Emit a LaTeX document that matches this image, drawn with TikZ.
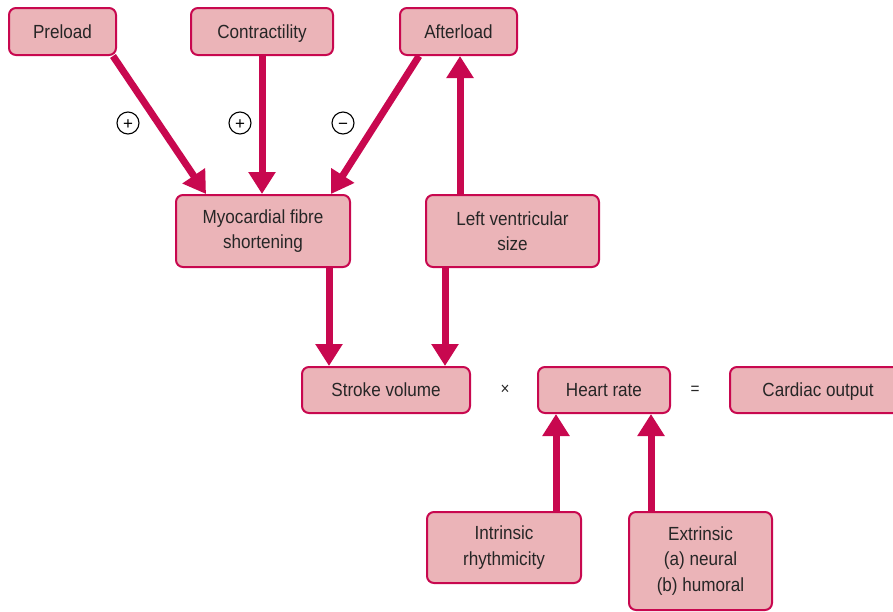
\documentclass[tikz,border=0pt]{standalone}
\usepackage{fontspec}
\setmainfont[FakeStretch=0.9]{Liberation Sans}
\newfontfamily\signfont{Liberation Sans}
\usetikzlibrary{arrows.meta}
\definecolor{crim}{HTML}{C8084F}
\definecolor{boxfill}{HTML}{EBB4B8}
\definecolor{inktext}{HTML}{262626}
\tikzset{
  box/.style={draw=crim, fill=boxfill, line width=2pt, rounded corners=7pt,
    inner sep=0pt, align=center, text=inktext,
    font=\fontsize{19}{25.5}\selectfont},
  oneline/.style={text height=13.6pt, text depth=0pt},
  flow/.style={draw=crim, line width=7pt,
    -{Triangle[length=22pt,width=26pt]}},
  sign/.style={draw=black, circle, line width=1.1pt, minimum size=22pt,
    inner sep=0pt, text height=12pt, text depth=0pt,
    font=\signfont\fontsize{17}{17}\selectfont},
  op/.style={text=inktext, font=\fontsize{17}{17}\selectfont}
}
\begin{document}
\begin{tikzpicture}[x=1pt,y=-1pt]
\useasboundingbox (0,0) rectangle (893,611);
\clip (0,0) rectangle (893,611);

% determinants of contraction
\node[box, oneline, minimum width=107pt, minimum height=47pt] (pre) at (62.5,31.5) {Preload};
\node[box, oneline, minimum width=142pt, minimum height=47pt] (con) at (262,31.5) {Contractility};
\node[box, oneline, minimum width=117pt, minimum height=47pt] (aft) at (458.5,31.5) {Afterload};

\node[box, minimum width=174pt, minimum height=72pt] (myo) at (263,231) {Myocardial fibre\\shortening};
\node[box, minimum width=173pt, minimum height=72pt] (lvs) at (512.5,231) {Left ventricular\\size};

% cardiac output equation
\node[box, oneline, minimum width=168pt, minimum height=46pt] (sv) at (386,390) {Stroke volume};
\node[op] (times) at (505,390) {×};
\node[box, oneline, minimum width=132pt, minimum height=46pt] (hr) at (604,390) {Heart rate};
\node[op] (eq) at (695,390) {=};
\node[box, oneline, minimum width=176pt, minimum height=46pt] (co) at (818,390) {Cardiac output};

% heart rate determinants
\node[box, minimum width=154pt, minimum height=71pt] (intr) at (504,547.5) {Intrinsic\\rhythmicity};
\node[box, minimum width=143pt, minimum height=98pt] (extr) at (700.5,561) {Extrinsic\\(a) neural\\(b) humoral};

% connectors
\draw[flow] ([xshift=-4pt]pre.south east) -- ([xshift=31pt]myo.north west);
\draw[flow] (con.south) -- (con.south |- myo.north);
\draw[flow] ([xshift=20pt]aft.south west) -- ([xshift=-20pt]myo.north east);
\draw[flow] ([xshift=35pt]lvs.north west) -- ([xshift=35pt]lvs.north west |- aft.south);
\draw[flow] ([xshift=-22pt]myo.south east) -- ([xshift=-22pt]myo.south east |- sv.north);
\draw[flow] ([xshift=20pt]lvs.south west) -- ([xshift=20pt]lvs.south west |- sv.north);
\draw[flow] ([xshift=-48pt]hr.south |- intr.north) -- ([xshift=-48pt]hr.south);
\draw[flow] ([xshift=47pt]hr.south |- extr.north) -- ([xshift=47pt]hr.south);

% signs of influence
\node[sign] (s1) at (128,123) {+};
\node[sign] (s2) at (240,123) {+};
\node[sign] (s3) at (343,123) {−};
\end{tikzpicture}
\end{document}
